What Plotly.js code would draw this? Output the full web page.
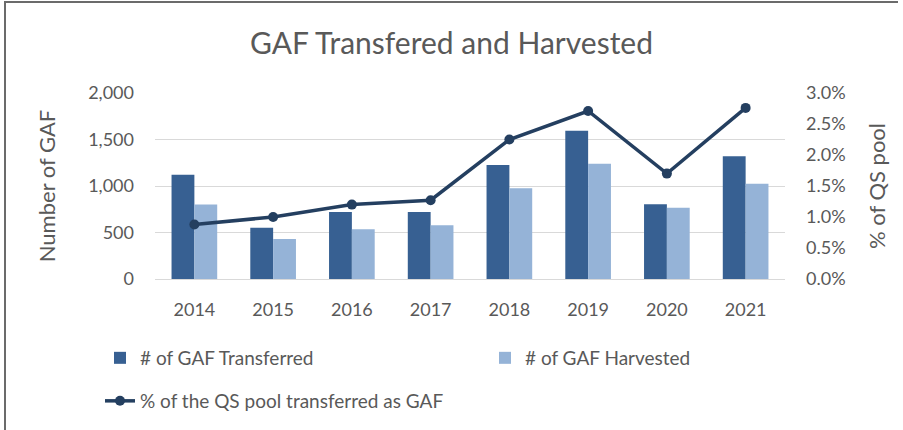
<!DOCTYPE html>
<html>
<head>
<meta charset="utf-8">
<script src="https://cdn.plot.ly/plotly-3.0.1.min.js"></script>
<style>
  html, body { margin: 0; padding: 0; background: #fff; }
  #wrap { position: relative; width: 903px; height: 430px; }
  #chart { width: 903px; height: 430px; }
  #bt { position: absolute; left: 4px; top: 1px; width: 894px; height: 2px; background: #6b6b6b; }
  #bl { position: absolute; left: 4px; top: 1px; width: 2px; height: 429px; background: #6b6b6b; }
</style>
</head>
<body>
<div id="wrap">
  <div id="chart"></div>
  <div id="bt"></div>
  <div id="bl"></div>
</div>
<script>
const years = ['2014','2015','2016','2017','2018','2019','2020','2021'];
const transferred = [1120, 550, 720, 720, 1225, 1595, 805, 1320];
const harvested = [800, 430, 535, 578, 975, 1240, 765, 1025];
const pctPool = [0.0088, 0.0100, 0.0120, 0.0127, 0.0225, 0.0271, 0.0170, 0.0276];
const leftTicks = [0, 500, 1000, 1500, 2000];
const rightTicks = [0, 0.005, 0.01, 0.015, 0.02, 0.025, 0.03];

const fontFam = 'Lato, "Open Sans", sans-serif';
const grey = '#595959';

const traces = [
  {
    type: 'bar', x: years, y: transferred, name: '# of GAF Transferred',
    marker: { color: '#376092' }, legend: 'legend', hoverinfo: 'y'
  },
  {
    type: 'bar', x: years, y: harvested, name: '# of GAF Harvested',
    marker: { color: '#95B3D7' }, legend: 'legend', hoverinfo: 'y'
  },
  {
    type: 'scatter', mode: 'lines+markers', x: years, y: pctPool, yaxis: 'y2',
    name: '% of the QS pool transferred as GAF',
    line: { color: '#243F60', width: 3.5 },
    marker: { color: '#243F60', size: 10 },
    legend: 'legend2'
  }
];

const layout = {
  width: 903, height: 430,
  margin: { l: 155, r: 118, t: 93, b: 150 },
  paper_bgcolor: '#fff', plot_bgcolor: '#fff',
  font: { family: fontFam, color: grey, size: 18 },
  title: {
    text: 'GAF Transfered and Harvested',
    font: { size: 30, color: grey, family: fontFam },
    x: 0.5, xanchor: 'center', xref: 'container', y: 0.9, yanchor: 'middle'
  },
  barmode: 'group', bargap: 0.42, bargroupgap: 0,
  showlegend: true,
  xaxis: {
    type: 'category', showgrid: false, showline: true, linecolor: '#D9D9D9', linewidth: 1,
    ticks: '', ticklabelstandoff: 14, tickfont: { size: 18, color: grey }
  },
  yaxis: {
    range: [0, 2000], tickvals: leftTicks, tickformat: ',d',
    showgrid: true, gridcolor: '#D9D9D9', gridwidth: 1, zeroline: false, showline: false,
    ticks: '', ticklabelstandoff: 20, tickfont: { size: 18, color: grey },
    title: { text: 'Number of GAF', font: { size: 22, color: grey }, standoff: 26 }
  },
  yaxis2: {
    overlaying: 'y', side: 'right', range: [0, 0.03], tickvals: rightTicks, tickformat: '.1%',
    showgrid: false, zeroline: false, showline: false,
    ticks: '', ticklabelstandoff: 20, tickfont: { size: 18, color: grey },
    title: { text: '% of QS pool', font: { size: 22, color: grey }, standoff: 25 }
  },
  legend: {
    orientation: 'h', x: -0.0873, y: -0.417, xanchor: 'left', yanchor: 'middle',
    entrywidth: 340, entrywidthmode: 'pixels', traceorder: 'normal',
    font: { size: 19, color: grey }, itemwidth: 30
  },
  legend2: {
    orientation: 'h', x: -0.0873, y: -0.647, xanchor: 'left', yanchor: 'middle',
    font: { size: 19, color: grey }, itemwidth: 30
  }
};

Plotly.newPlot('chart', traces, layout, { displayModeBar: false, staticPlot: true });
</script>
</body>
</html>
